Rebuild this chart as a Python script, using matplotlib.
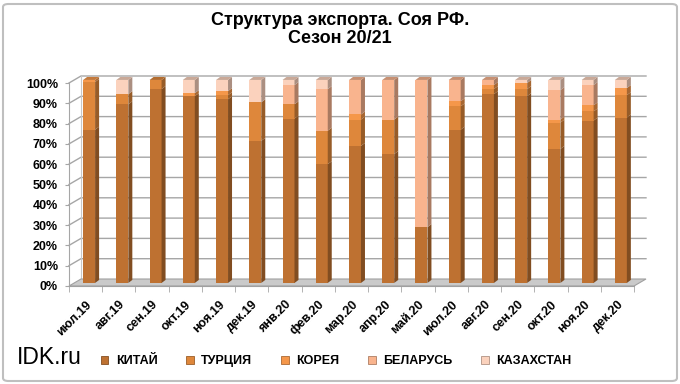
import matplotlib.pyplot as plt
from matplotlib.patches import Polygon, Patch, FancyBboxPatch
from matplotlib.colors import to_rgb
import numpy as np

plt.rcParams['font.family'] = ['Liberation Sans', 'DejaVu Sans']

months = ['июл.19', 'авг.19', 'сен.19', 'окт.19', 'ноя.19', 'дек.19', 'янв.20',
          'фев.20', 'мар.20', 'апр.20', 'май.20', 'июл.20', 'авг.20', 'сен.20',
          'окт.20', 'ноя.20', 'дек.20']
names = ['КИТАЙ', 'ТУРЦИЯ', 'КОРЕЯ', 'БЕЛАРУСЬ', 'КАЗАХСТАН']

# shares, %
china   = [75.5, 88, 95.5, 92, 90.5, 70, 81, 58.5, 67.5, 63.5, 27.5, 75.5, 93, 92, 66, 80, 81.5]
turkey  = [23.5, 5, 4.5, 0, 2, 19, 7, 16.5, 13, 17, 0, 11.5, 2.5, 3.5, 13, 4.5, 11]
korea   = [1, 0, 0, 1.5, 2, 0, 0, 0, 2.5, 0, 0, 2.5, 2, 3, 1.5, 3, 3.5]
belarus = [0, 0, 0, 0, 0, 0, 9.5, 20.5, 17, 19.5, 72.5, 10.5, 2.5, 0, 14.5, 10, 0]
kazakh  = [0, 7, 0, 6.5, 5.5, 11, 2.5, 4.5, 0, 0, 0, 0, 0, 1.5, 5, 2.5, 4]

colors = ['#BE7131', '#DE873B', '#F5974A', '#F9B48E', '#FBD2BD']


def shade(c, f):
    r, g, b = to_rgb(c)
    if f < 1:
        return (r * f, g * f, b * f)
    return (r + (1 - r) * (f - 1), g + (1 - g) * (f - 1), b + (1 - b) * (f - 1))


W, H = 680, 384
fig = plt.figure(figsize=(W / 100, H / 100), dpi=100)
# front plane of the 3d box
ax = fig.add_axes([69 / W, (H - 286) / H, 565 / W, 203 / H])
n = len(months)
ax.set_xlim(-0.5, n - 0.5)
ax.set_ylim(0, 100)
ux = 565 / n      # px per category
uy = 203 / 100    # px per percent

# depth offsets
bdx, bdy = 12 / ux, 7 / uy      # back wall
sdx, sdy = 4 / ux, 3 / uy       # bar side
lift = 1.5                      # bar base above front edge

grid_c = '#A6A6A6'
# floor
ax.add_patch(Polygon([(-0.5, 0), (n - 0.5, 0), (n - 0.5 + bdx, bdy), (-0.5 + bdx, bdy)],
                     closed=True, fc='#CACACA', ec='#A0A0A0', lw=0.8, zorder=2, clip_on=False))
# gridlines on left and back wall
for v in range(10, 101, 10):
    ax.plot([-0.5, -0.5 + bdx, n - 0.5 + bdx], [v, v + bdy, v + bdy],
            color=grid_c, lw=1.0, zorder=1, clip_on=False)
ax.plot([-0.5 + bdx, -0.5 + bdx], [bdy, 100 + bdy], color='#C8C8C8', lw=0.8, zorder=1, clip_on=False)

x = np.arange(n)
data = [china, turkey, korea, belarus, kazakh]
bw = 0.36
xl = x - 0.075
base = np.zeros(n)
for vals, c in zip(data, colors):
    vals = np.array(vals, dtype=float)
    ax.bar(xl, vals, width=bw, bottom=base + lift, align='edge', color=c,
           zorder=3, clip_on=False, lw=0)
    for i in range(n):
        if vals[i] <= 0:
            continue
        b = base[i] + lift
        xr = xl[i] + bw
        ax.add_patch(Polygon([(xr, b), (xr + sdx, b + sdy), (xr + sdx, b + vals[i] + sdy), (xr, b + vals[i])],
                             closed=True, fc=shade(c, 0.68), lw=0, zorder=3, clip_on=False))
    base = base + vals

# top faces
topc = [None] * n
for vals, c in zip(data, colors):
    for i in range(n):
        if vals[i] > 0:
            topc[i] = c
for i in range(n):
    t = base[i] + lift
    ax.add_patch(Polygon([(xl[i], t), (xl[i] + bw, t), (xl[i] + bw + sdx, t + sdy), (xl[i] + sdx, t + sdy)],
                         closed=True, fc=shade(topc[i], 0.8), lw=0, zorder=3, clip_on=False))

# axes styling
for s in ['top', 'right']:
    ax.spines[s].set_visible(False)
ax.spines['left'].set_color(grid_c)
ax.spines['bottom'].set_color('#A0A0A0')
ax.set_facecolor('none')
ax.set_yticks(range(0, 101, 10))
ax.set_yticklabels([f'{v}%' for v in range(0, 101, 10)], fontsize=9, fontweight='bold')
ax.set_xticks(x)
ax.set_xticks(np.arange(-0.5, n), minor=True)
ax.set_xticklabels(months, fontsize=9, fontweight='bold', rotation=45, ha='right',
                   rotation_mode='anchor')
ax.tick_params(axis='x', which='major', length=0, pad=9)
ax.tick_params(axis='x', which='minor', length=4, color=grid_c)
ax.tick_params(axis='y', length=3, color=grid_c, pad=5)

fig.text(0.5, 1 - 29.5 / H, 'Структура экспорта. Соя РФ.\nСезон 20/21', ha='center', va='center',
         fontsize=13, fontweight='bold', linespacing=1.05)
fig.text(17 / W, 1 - 364 / H, 'IDK.ru', fontsize=16.5, va='baseline', ha='left')

handles = [Patch(facecolor=c, edgecolor=shade(c, 0.7), lw=0.6) for c in colors]
fig.legend(handles, names, loc='center', bbox_to_anchor=(336 / W, 1 - 361 / H), ncol=5,
           frameon=False, handlelength=0.6, handleheight=0.6, handletextpad=0.6,
           columnspacing=2.3, prop={'weight': 'bold', 'size': 9})

fig.patches.append(FancyBboxPatch((3 / W, 3 / H), 674 / W, 377 / H, boxstyle='round,pad=0,rounding_size=0.008',
                                  transform=fig.transFigure, fill=False, ec='#BFBFBF', lw=1.5))

fig.savefig('out.png', dpi=100)
